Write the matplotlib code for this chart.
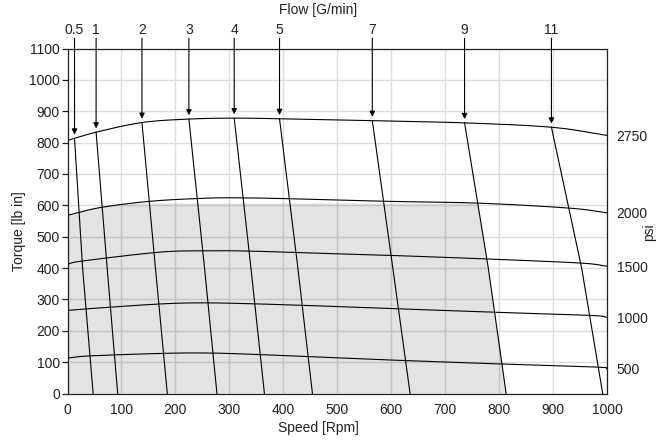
import numpy as np
import matplotlib
matplotlib.use("Agg")
import matplotlib.pyplot as plt

plt.rcParams['font.family'] = ['Liberation Sans', 'DejaVu Sans']

# ---- data ----
speed_ticks = [0, 100, 200, 300, 400, 500, 600, 700, 800, 900, 1000]
torque_ticks = [0, 100, 200, 300, 400, 500, 600, 700, 800, 900, 1000, 1100]

psi_labels = ["2750", "2000", "1500", "1000", "500"]
psi2750_x = [0, 55, 138, 224, 308, 394, 564, 734, 897, 1000]
psi2750_y = [807, 834, 864, 875, 878, 876, 870, 863, 849, 823]
psi2000_x = [0, 61, 154, 246, 308, 413, 585, 761, 931, 1000]
psi2000_y = [568, 593, 613, 622, 624, 621, 613, 607, 591, 576]
psi1500_x = [0, 30, 166, 246, 339, 505, 604, 777, 950, 1000]
psi1500_y = [413, 423, 450, 455, 454, 445, 440, 429, 416, 406]
psi1000_x = [0, 36, 166, 246, 345, 505, 614, 793, 969, 1000]
psi1000_y = [265, 270, 285, 289, 286, 277, 270, 259, 249, 243]
psi500_x = [0, 43, 178, 265, 357, 505, 626, 805, 983, 1000]
psi500_y = [113, 120, 128, 129, 124, 113, 105, 94, 84, 79]

flow_labels = ["0.5", "1", "2", "3", "4", "5", "7", "9", "11"]
flow_top_x = [13, 53, 138, 225, 309, 393, 565, 736, 897]   # at 2750 psi curve
flow_mid_x = [28, 73.5, 163, 254, 340, 427, 603, 780, 953]  # at torque 400
flow_bot_x = [47.5, 93, 185, 277, 365, 454, 635, 813, 992]  # at torque 0

fill_cap = 606          # top of shaded region (torque)
fill_flow_index = 7     # shaded region bounded by 9 G/min line


def smooth(px, py, n=20):
    """Catmull-Rom curve through the given points (drawing only)."""
    P = np.column_stack([px, py]).astype(float)
    P = np.vstack([2 * P[0] - P[1], P, 2 * P[-1] - P[-2]])
    out = []
    t = np.linspace(0, 1, n, endpoint=False)[:, None]
    for k in range(1, len(P) - 2):
        p0, p1, p2, p3 = P[k - 1], P[k], P[k + 1], P[k + 2]
        seg = 0.5 * ((2 * p1) + (-p0 + p2) * t + (2 * p0 - 5 * p1 + 4 * p2 - p3) * t ** 2
                     + (-p0 + 3 * p1 - 3 * p2 + p3) * t ** 3)
        out.append(seg)
    out.append(P[-2][None, :])
    out = np.vstack(out)
    return out[:, 0], out[:, 1]


# ---- figure ----
W, H = 665, 442
fig = plt.figure(figsize=(W / 100, H / 100), dpi=100)
ax = fig.add_axes([67.5 / W, 1 - 393.5 / H, (607 - 67.5) / W, (393.5 - 48.5) / H])
ax.set_xlim(0, 1000)
ax.set_ylim(0, 1100)

ax.set_xticks(speed_ticks)
ax.set_yticks(torque_ticks)
ax.grid(True, color='#dcdcdc', lw=1.0, zorder=0)
ax.set_axisbelow(True)
for s in ax.spines.values():
    s.set_color('#222222')
    s.set_linewidth(0.9)
ax.tick_params(axis='x', length=0, pad=7, labelsize=10, colors='#222222')
ax.tick_params(axis='y', length=4, width=0.9, pad=1.5, labelsize=10, colors='#222222')

curves_x = [psi2750_x, psi2000_x, psi1500_x, psi1000_x, psi500_x]
curves_y = [psi2750_y, psi2000_y, psi1500_y, psi1000_y, psi500_y]

s2750 = smooth(psi2750_x, psi2750_y)
s2000 = smooth(psi2000_x, psi2000_y)


def flow_x_at(i, y):
    xt = flow_top_x[i]
    yt = np.interp(xt, s2750[0], s2750[1])
    return np.interp(y, [0, 400, yt], [flow_bot_x[i], flow_mid_x[i], xt])


# shaded region
yy = np.linspace(0, fill_cap, 200)
xr = flow_x_at(fill_flow_index, yy)
xs = np.linspace(0, xr[-1], 300)
top = np.minimum(np.interp(xs, s2000[0], s2000[1]), fill_cap)
poly_x = np.concatenate([[0], xs, xr[::-1], [0]])
poly_y = np.concatenate([[0], top, yy[::-1], [0]])
ax.fill(poly_x, poly_y, color='black', alpha=0.11, lw=0, zorder=1)

# psi curves
for cx, cy in zip(curves_x, curves_y):
    sx, sy = smooth(cx, cy)
    ax.plot(sx, sy, color='black', lw=0.8, zorder=3)

# flow lines + arrows
for i, lab in enumerate(flow_labels):
    xt = flow_top_x[i]
    yt = np.interp(xt, s2750[0], s2750[1])
    yl = np.linspace(0, yt, 50)
    ax.plot(flow_x_at(i, yl), yl, color='black', lw=0.8, zorder=3)
    ax.annotate('', xy=(xt, yt + 12), xytext=(xt, 1133),
                arrowprops=dict(arrowstyle='-|>', lw=0.8, color='black',
                                mutation_scale=8, shrinkA=0, shrinkB=0),
                annotation_clip=False, zorder=4)
    ax.text(xt, 1138, lab, ha='center', va='bottom', fontsize=10,
            color='#222222', clip_on=False)

# right psi labels
ax2 = ax.twinx()
ax2.set_ylim(0, 1100)
ends = [cy[-1] for cy in curves_y]
ax2.set_yticks(ends)
ax2.set_yticklabels(psi_labels)
ax2.tick_params(axis='y', length=0, pad=7, labelsize=10, colors='#222222')
for s in ax2.spines.values():
    s.set_visible(False)

# axis titles
fig.text(318 / W, 1 - 428 / H, "Speed [Rpm]", ha='center', va='center', fontsize=10, color='#222222')
fig.text(318 / W, 1 - 10 / H, "Flow [G/min]", ha='center', va='center', fontsize=10, color='#222222')
fig.text(19 / W, 1 - 231.5 / H, "Torque [lb in]", ha='center', va='center', rotation=90, fontsize=10, color='#222222')
fig.text(649 / W, 1 - 232 / H, "psi", ha='center', va='center', rotation=90, fontsize=10, color='#222222')

fig.savefig("out.png", dpi=100)
